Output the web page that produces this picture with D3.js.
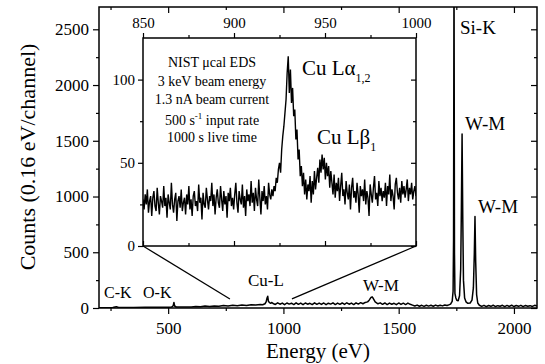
<!DOCTYPE html>
<html>
<head>
<meta charset="utf-8">
<script src="https://d3js.org/d3.v7.min.js"></script>
<style>
body { margin: 0; background: #fff; }
svg, svg text { font-family: "Liberation Serif", serif !important; fill: #000; }
.axis path.domain { display: none; }
.axis line { stroke: #000; stroke-width: 1.2; }
</style>
</head>
<body>
<div id="chart"></div>
<script>
// full spectrum (energy in eV, counts per 0.16 eV channel)
var mainEnergy = [
  200, 230, 260, 275, 285, 300, 350, 400, 450, 500, 515, 522, 525, 528, 535, 560,
  600, 620, 640, 660, 680, 700, 720, 740, 760, 780, 800, 820, 840, 860, 880, 900,
  910, 920, 925, 929, 932, 935, 940, 945, 950, 955,
  965, 975, 985, 995, 1005, 1015, 1025, 1035, 1045, 1055, 1065, 1075, 1085, 1095, 1105, 1115, 1125, 1135, 1145, 1155,
  1165, 1175, 1185, 1195, 1205, 1215, 1225, 1235, 1245, 1255, 1265, 1275, 1285, 1295, 1305, 1315, 1325, 1335, 1345, 1355,
  1365, 1372, 1380, 1385, 1390, 1398,
  1410, 1420, 1430, 1440, 1450, 1460, 1470, 1480, 1490, 1500, 1510, 1520, 1530, 1540, 1550,
  1560, 1570, 1580, 1590, 1600, 1610, 1620, 1630, 1640, 1650, 1660, 1670, 1680, 1690, 1700, 1710, 1720,
  1725, 1732, 1736, 1738, 1740, 1742, 1744, 1748, 1752, 1758, 1764, 1769, 1772, 1775, 1778, 1781, 1786, 1792, 1800, 1810,
  1818, 1824, 1828, 1831, 1834, 1838, 1843, 1850,
  1860, 1870, 1880, 1890, 1900, 1910, 1920, 1930, 1940, 1950, 1960, 1970, 1980, 1990, 2000, 2010, 2020, 2030, 2040, 2050,
  2060, 2070, 2080, 2090, 2100];
var mainCounts = [
  2, 3, 4, 12, 4, 4, 5, 6, 6, 7, 8, 20, 50, 18, 9, 9,
  10, 14, 12, 17, 14, 19, 16, 22, 18, 24, 21, 27, 23, 30, 26, 32,
  29, 38, 55, 90, 105, 60, 48, 42, 50, 40,
  32, 46, 34, 44, 30, 45, 35, 43, 31, 46, 33, 44, 30, 45, 34, 42, 31, 46, 33, 44,
  32, 45, 30, 43, 35, 46, 31, 44, 33, 45, 32, 47, 34, 44, 31, 46, 35, 48, 38, 50,
  55, 70, 95, 100, 85, 55,
  38, 46, 33, 45, 31, 44, 34, 42, 30, 45, 32, 43, 31, 44, 33,
  26, 18, 26, 16, 24, 15, 25, 17, 24, 16, 26, 18, 25, 19, 27, 22, 30,
  35, 60, 150, 600, 3200, 500, 130, 90, 70, 65, 110, 350, 900, 1560, 800, 250, 90, 55, 42, 45,
  70, 180, 480, 820, 420, 120, 45, 25,
  14, 24, 12, 22, 15, 25, 13, 21, 16, 24, 12, 23, 14, 25, 13, 22, 15, 24, 12, 23,
  16, 21, 14, 24, 18];

// zoomed Cu-L region: counts every 0.6 eV starting at 850 eV
var insetStart = 850, insetStep = 0.6;
var insetCounts = [
  28, 22, 31, 25, 34, 20, 27, 30, 18, 29, 33, 24, 21, 35, 26, 19, 30, 27, 23, 36,
  24, 29, 17, 31, 26, 22, 38, 25, 20, 28, 32, 15, 27, 30, 23, 34, 21, 26, 29, 19,
  31, 25, 36, 22, 28, 18, 30, 33, 24, 27, 21, 37, 26, 29, 16, 32, 25, 23, 35, 28,
  22, 30, 27, 38, 24, 31, 19, 29, 34, 26, 23, 36, 28, 21, 33, 25, 30, 17, 32, 27,
  35, 24, 29, 22, 31, 38, 26, 20, 33, 28, 25, 37, 23, 30, 18, 34, 27, 31, 24, 39,
  26, 32, 21, 35, 28, 24, 40, 29, 19, 33, 27, 36, 25, 30, 22, 38, 31, 28, 34, 30,
  36, 33, 41, 38, 46, 50, 44, 58, 66, 72, 80, 88, 104, 114, 92, 106, 86, 95, 78, 82,
  64, 70, 52, 58, 42, 48, 36, 44, 31, 40, 28, 37, 33, 42, 26, 39, 31, 45, 34, 41,
  47, 38, 52, 44, 55, 46, 53, 40, 50, 42, 48, 35, 45, 38, 31, 43, 29, 38, 33, 41,
  27, 36, 44, 30, 34, 25, 39, 32, 28, 37, 22, 35, 41, 29, 33, 26, 38, 31, 20, 36,
  30, 34, 27, 40, 25, 33, 29, 18, 37, 31, 26, 35, 42, 28, 32, 24, 39, 30, 35, 27,
  33, 29, 38, 24, 36, 31, 43, 27, 34, 30, 22, 37, 41, 32, 28, 35, 26, 39, 31, 36,
  29, 34, 40, 27, 35, 31, 38, 28, 33, 36, 30];

var mainXTicks = [500, 1000, 1500, 2000];
var mainXMinor = [250, 750, 1250, 1750];
var mainYTicks = [0, 500, 1000, 1500, 2000, 2500];
var mainYMinor = [250, 750, 1250, 1750, 2250];
var insetXTicks = [850, 900, 950, 1000];
var insetXMinor = [875, 925, 975];
var insetYTicks = [0, 50, 100];
var insetYMinor = [25, 75];

// peak labels on the full spectrum, anchored at (energy, counts)
var peakNames = ["Si-K", "W-M", "W-M", "W-M", "Cu-L", "C-K", "O-K"];
var peakLabelE = [1766, 1788, 1844, 1345, 846, 222, 391];
var peakLabelC = [2460, 1597, 852, 152, 197, 90, 90];
var peakLabelSize = [19, 19, 19, 17, 17, 16, 16];

var serif = '"Liberation Serif", serif';
var fmt = d3.format("d");

var width = 545, height = 364;
var svg = d3.select("#chart").append("svg")
    .attr("width", width)
    .attr("height", height)
    .style("font-family", serif);
svg.append("rect").attr("width", width).attr("height", height).attr("fill", "#fff");

// main plot area
var plot = {left: 99, right: 537, top: 7, bottom: 308};
var x = d3.scaleLinear().domain([200, 2100]).range([plot.left, plot.right]);
var y = d3.scaleLinear().domain([0, 2700]).range([plot.bottom, plot.top]);

svg.append("clipPath").attr("id", "mainClip")
  .append("rect")
    .attr("x", plot.left).attr("y", plot.top)
    .attr("width", plot.right - plot.left).attr("height", plot.bottom - plot.top);

var mainData = mainEnergy.map(function(e, i) { return {e: e, c: mainCounts[i]}; });
var line = d3.line()
    .x(function(d) { return x(d.e); })
    .y(function(d) { return y(d.c); });

svg.append("path")
    .datum(mainData)
    .attr("clip-path", "url(#mainClip)")
    .attr("d", line)
    .attr("fill", "none")
    .attr("stroke", "#000")
    .attr("stroke-width", 1.5)
    .attr("stroke-linejoin", "round");

function axisGroup(tx, ty) {
  return svg.append("g").attr("class", "axis")
      .attr("transform", "translate(" + tx + "," + ty + ")");
}
function styleLabels(g, size) {
  g.attr("font-family", null).attr("font-size", null);
  g.selectAll("text").style("font-family", serif).style("font-size", size + "px");
}

// main axes
var gx = axisGroup(0, plot.bottom)
    .call(d3.axisBottom(x).tickValues(mainXTicks).tickFormat(fmt).tickSize(6).tickPadding(8));
styleLabels(gx, 17);
axisGroup(0, plot.bottom).call(d3.axisBottom(x).tickValues(mainXMinor).tickSize(3).tickFormat(""));
axisGroup(0, plot.top).call(d3.axisBottom(x).tickValues(mainXTicks).tickSize(6).tickFormat(""));
axisGroup(0, plot.top).call(d3.axisBottom(x).tickValues(mainXMinor).tickSize(3).tickFormat(""));

var gy = axisGroup(plot.left, 0)
    .call(d3.axisLeft(y).tickValues(mainYTicks).tickFormat(fmt).tickSize(6).tickPadding(4));
styleLabels(gy, 17);
axisGroup(plot.left, 0).call(d3.axisLeft(y).tickValues(mainYMinor).tickSize(3).tickFormat(""));
axisGroup(plot.right, 0).call(d3.axisLeft(y).tickValues(mainYTicks).tickSize(6).tickFormat(""));
axisGroup(plot.right, 0).call(d3.axisLeft(y).tickValues(mainYMinor).tickSize(3).tickFormat(""));

svg.append("rect")
    .attr("x", plot.left).attr("y", plot.top)
    .attr("width", plot.right - plot.left).attr("height", plot.bottom - plot.top)
    .attr("fill", "none").attr("stroke", "#000").attr("stroke-width", 1.5);

// axis titles
svg.append("text")
    .attr("x", (plot.left + plot.right) / 2)
    .attr("y", 358)
    .attr("text-anchor", "middle")
    .style("font-family", serif)
    .style("font-size", "21px")
    .text("Energy (eV)");
svg.append("text")
    .attr("transform", "translate(35,157)rotate(-90)")
    .attr("text-anchor", "middle")
    .style("font-family", serif)
    .style("font-size", "22px")
    .text("Counts (0.16 eV/channel)");

// peak labels
peakNames.forEach(function(name, i) {
  svg.append("text")
      .attr("x", x(peakLabelE[i]))
      .attr("y", y(peakLabelC[i]))
      .style("font-family", serif)
      .style("font-size", peakLabelSize[i] + "px")
      .text(name);
});

// inset
var box = {left: 143, right: 416, top: 38, bottom: 246};
var xi = d3.scaleLinear().domain([850, 1000]).range([box.left, box.right]);
var yi = d3.scaleLinear().domain([0, 125]).range([box.bottom, box.top]);

// connector lines from the inset corners down to the spectrum
svg.append("line")
    .attr("x1", xi(850)).attr("y1", yi(0))
    .attr("x2", x(768)).attr("y2", y(81))
    .attr("stroke", "#000").attr("stroke-width", 1.3);
svg.append("line")
    .attr("x1", xi(1000)).attr("y1", yi(0))
    .attr("x2", x(1037)).attr("y2", y(81))
    .attr("stroke", "#000").attr("stroke-width", 1.3);

svg.append("rect")
    .attr("x", box.left).attr("y", box.top)
    .attr("width", box.right - box.left).attr("height", box.bottom - box.top)
    .attr("fill", "#fff");

svg.append("clipPath").attr("id", "insetClip")
  .append("rect")
    .attr("x", box.left).attr("y", box.top)
    .attr("width", box.right - box.left).attr("height", box.bottom - box.top);

var insetData = insetCounts.map(function(c, i) { return {e: insetStart + i * insetStep, c: c}; });
var insetLine = d3.line()
    .x(function(d) { return xi(d.e); })
    .y(function(d) { return yi(d.c); });

svg.append("path")
    .datum(insetData)
    .attr("clip-path", "url(#insetClip)")
    .attr("d", insetLine)
    .attr("fill", "none")
    .attr("stroke", "#000")
    .attr("stroke-width", 1.4)
    .attr("stroke-linejoin", "miter");

var gix = axisGroup(0, box.top)
    .call(d3.axisTop(xi).tickValues(insetXTicks).tickFormat(fmt).tickSize(5).tickPadding(5));
styleLabels(gix, 15);
axisGroup(0, box.top).call(d3.axisTop(xi).tickValues(insetXMinor).tickSize(3).tickFormat(""));
axisGroup(0, box.bottom).call(d3.axisTop(xi).tickValues(insetXTicks).tickSize(5).tickFormat(""));
axisGroup(0, box.bottom).call(d3.axisTop(xi).tickValues(insetXMinor).tickSize(3).tickFormat(""));

var giy = axisGroup(box.left, 0)
    .call(d3.axisLeft(yi).tickValues(insetYTicks).tickFormat(fmt).tickSize(5).tickPadding(3));
styleLabels(giy, 15);
axisGroup(box.left, 0).call(d3.axisLeft(yi).tickValues(insetYMinor).tickSize(3).tickFormat(""));
axisGroup(box.right, 0).call(d3.axisLeft(yi).tickValues(insetYTicks).tickSize(5).tickFormat(""));
axisGroup(box.right, 0).call(d3.axisLeft(yi).tickValues(insetYMinor).tickSize(3).tickFormat(""));

svg.append("rect")
    .attr("x", box.left).attr("y", box.top)
    .attr("width", box.right - box.left).attr("height", box.bottom - box.top)
    .attr("fill", "none").attr("stroke", "#000").attr("stroke-width", 1.5);

// acquisition note
var note = svg.append("g")
    .style("font-family", serif)
    .style("font-size", "14px")
    .attr("text-anchor", "middle");
note.append("text").attr("x", 212).attr("y", 67).text("NIST \u03bccal EDS");
note.append("text").attr("x", 212).attr("y", 86).text("3 keV beam energy");
note.append("text").attr("x", 212).attr("y", 104).text("1.3 nA beam current");
var rate = note.append("text").attr("x", 212).attr("y", 125);
rate.append("tspan").text("500 s");
rate.append("tspan").attr("dy", -6).style("font-size", "9px").text("-1");
rate.append("tspan").attr("dy", 6).text(" input rate");
note.append("text").attr("x", 212).attr("y", 142).text("1000 s live time");

// line names in the inset
var la = svg.append("text").attr("x", 302).attr("y", 75)
    .style("font-family", serif).style("font-size", "21px");
la.append("tspan").text("Cu L\u03b1");
la.append("tspan").attr("dy", 7).style("font-size", "12px").text("1,2");
var lb = svg.append("text").attr("x", 317).attr("y", 144)
    .style("font-family", serif).style("font-size", "21px");
lb.append("tspan").text("Cu L\u03b2");
lb.append("tspan").attr("dy", 7).style("font-size", "12px").text("1");
</script>
</body>
</html>
